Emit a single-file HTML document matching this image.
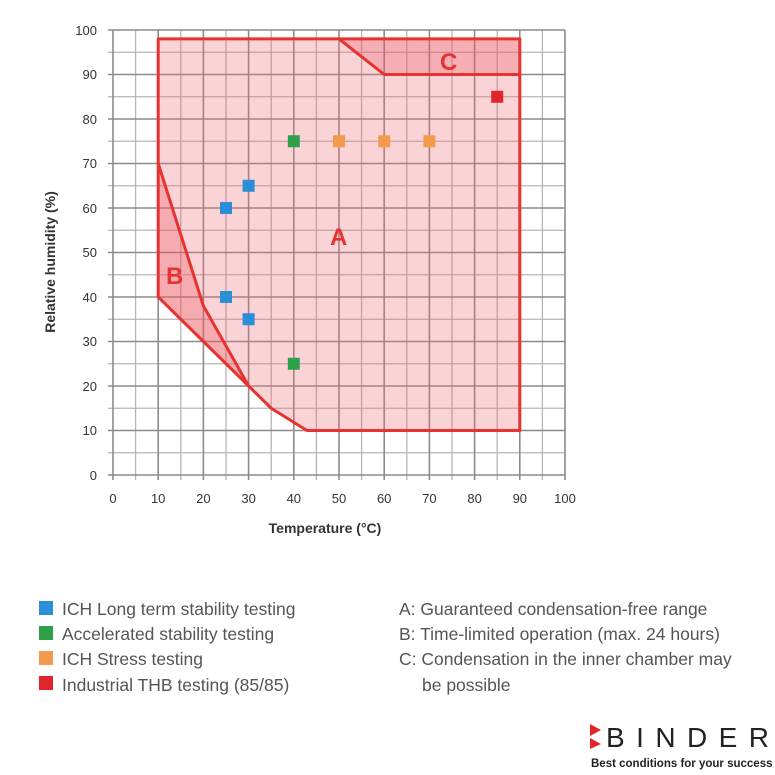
<!DOCTYPE html>
<html><head><style>body{margin:0;background:#fff}svg{display:block}</style></head><body>
<svg width="775" height="775" viewBox="0 0 775 775" xmlns="http://www.w3.org/2000/svg" font-family="Liberation Sans, sans-serif">
<rect width="775" height="775" fill="#fff"/>
<g stroke="#b8b4b4" stroke-width="1.3">
<line x1="135.6" y1="30" x2="135.6" y2="480"/><line x1="180.8" y1="30" x2="180.8" y2="480"/><line x1="226" y1="30" x2="226" y2="480"/><line x1="271.2" y1="30" x2="271.2" y2="480"/><line x1="316.4" y1="30" x2="316.4" y2="480"/><line x1="361.6" y1="30" x2="361.6" y2="480"/><line x1="406.8" y1="30" x2="406.8" y2="480"/><line x1="452" y1="30" x2="452" y2="480"/><line x1="497.2" y1="30" x2="497.2" y2="480"/><line x1="542.4" y1="30" x2="542.4" y2="480"/>
<line x1="108" y1="52.25" x2="565" y2="52.25"/><line x1="108" y1="96.75" x2="565" y2="96.75"/><line x1="108" y1="141.25" x2="565" y2="141.25"/><line x1="108" y1="185.75" x2="565" y2="185.75"/><line x1="108" y1="230.25" x2="565" y2="230.25"/><line x1="108" y1="274.75" x2="565" y2="274.75"/><line x1="108" y1="319.25" x2="565" y2="319.25"/><line x1="108" y1="363.75" x2="565" y2="363.75"/><line x1="108" y1="408.25" x2="565" y2="408.25"/><line x1="108" y1="452.75" x2="565" y2="452.75"/>
</g>
<g stroke="#8e8a8a" stroke-width="1.6">
<line x1="113" y1="30" x2="113" y2="480"/><line x1="158.2" y1="30" x2="158.2" y2="480"/><line x1="203.4" y1="30" x2="203.4" y2="480"/><line x1="248.6" y1="30" x2="248.6" y2="480"/><line x1="293.8" y1="30" x2="293.8" y2="480"/><line x1="339" y1="30" x2="339" y2="480"/><line x1="384.2" y1="30" x2="384.2" y2="480"/><line x1="429.4" y1="30" x2="429.4" y2="480"/><line x1="474.6" y1="30" x2="474.6" y2="480"/><line x1="519.8" y1="30" x2="519.8" y2="480"/><line x1="565" y1="30" x2="565" y2="480"/>
<line x1="108" y1="30" x2="565" y2="30"/><line x1="108" y1="74.5" x2="565" y2="74.5"/><line x1="108" y1="119" x2="565" y2="119"/><line x1="108" y1="163.5" x2="565" y2="163.5"/><line x1="108" y1="208" x2="565" y2="208"/><line x1="108" y1="252.5" x2="565" y2="252.5"/><line x1="108" y1="297" x2="565" y2="297"/><line x1="108" y1="341.5" x2="565" y2="341.5"/><line x1="108" y1="386" x2="565" y2="386"/><line x1="108" y1="430.5" x2="565" y2="430.5"/><line x1="108" y1="475" x2="565" y2="475"/>
</g>
<polygon points="158.2,38.9 519.8,38.9 519.8,430.5 307,430.5 271.2,408.25 248.6,386 158.2,297" fill="rgba(240,110,120,0.3)"/>
<polygon points="158.2,163.5 203.4,305.9 248.6,386 158.2,297" fill="rgba(235,80,90,0.3)"/>
<polygon points="339,38.9 384.2,74.5 519.8,74.5 519.8,38.9" fill="rgba(235,80,90,0.28)"/>
<g fill="none" stroke="#e63330" stroke-width="3" stroke-linejoin="round">
<polygon points="158.2,38.9 519.8,38.9 519.8,430.5 307,430.5 271.2,408.25 248.6,386 158.2,297"/>
<polyline points="158.2,163.5 203.4,305.9 248.6,386"/>
<polyline points="339,38.9 384.2,74.5 519.8,74.5"/>
</g>
<g font-size="24" font-weight="bold" fill="#e63330">
<text x="330" y="245">A</text><text x="166" y="284">B</text><text x="440" y="70">C</text>
</g>
<g>
<rect x="220" y="202" width="12" height="12" fill="#2a8fd6"/><rect x="242.6" y="179.75" width="12" height="12" fill="#2a8fd6"/>
<rect x="220" y="291" width="12" height="12" fill="#2a8fd6"/><rect x="242.6" y="313.25" width="12" height="12" fill="#2a8fd6"/>
<rect x="287.8" y="135.25" width="12" height="12" fill="#2ea04a"/><rect x="287.8" y="357.75" width="12" height="12" fill="#2ea04a"/>
<rect x="333" y="135.25" width="12" height="12" fill="#f39a4c"/><rect x="378.2" y="135.25" width="12" height="12" fill="#f39a4c"/><rect x="423.4" y="135.25" width="12" height="12" fill="#f39a4c"/>
<rect x="491.2" y="90.75" width="12" height="12" fill="#e0262b"/>
</g>
<g font-size="13" fill="#333" text-anchor="end">
<text x="97" y="35">100</text><text x="97" y="79">90</text><text x="97" y="124">80</text><text x="97" y="168">70</text><text x="97" y="213">60</text><text x="97" y="257">50</text><text x="97" y="302">40</text><text x="97" y="346">30</text><text x="97" y="391">20</text><text x="97" y="435">10</text><text x="97" y="480">0</text>
</g>
<g font-size="13" fill="#333" text-anchor="middle">
<text x="113" y="503">0</text><text x="158.2" y="503">10</text><text x="203.4" y="503">20</text><text x="248.6" y="503">30</text><text x="293.8" y="503">40</text><text x="339" y="503">50</text><text x="384.2" y="503">60</text><text x="429.4" y="503">70</text><text x="474.6" y="503">80</text><text x="519.8" y="503">90</text><text x="565" y="503">100</text>
<text x="325" y="533" font-weight="bold" font-size="14">Temperature (°C)</text>
<text transform="translate(55,262) rotate(-90)" font-weight="bold" font-size="14">Relative humidity (%)</text>
</g>
<g font-size="17.5" fill="#555">
<rect x="39" y="601" width="14" height="14" fill="#2a8fd6"/><text x="62" y="615">ICH Long term stability testing</text>
<rect x="39" y="626" width="14" height="14" fill="#2ea04a"/><text x="62" y="640">Accelerated stability testing</text>
<rect x="39" y="651" width="14" height="14" fill="#f39a4c"/><text x="62" y="665">ICH Stress testing</text>
<rect x="39" y="676" width="14" height="14" fill="#e0262b"/><text x="62" y="691">Industrial THB testing (85/85)</text>
<text x="399" y="615">A: Guaranteed condensation-free range</text>
<text x="399" y="640">B: Time-limited operation (max. 24 hours)</text>
<text x="399" y="665">C: Condensation in the inner chamber may</text>
<text x="422" y="691">be possible</text>
</g>
<polygon points="590,724 601,730 590,736" fill="#e0262b"/>
<polygon points="590,738 601,744 590,749" fill="#e0262b"/>
<text x="606" y="747" font-size="28" fill="#222" textLength="163" lengthAdjust="spacing">BINDER</text>
<text x="591" y="767" font-size="11.5" font-weight="bold" fill="#222">Best conditions for your success</text>
</svg>
</body></html>
